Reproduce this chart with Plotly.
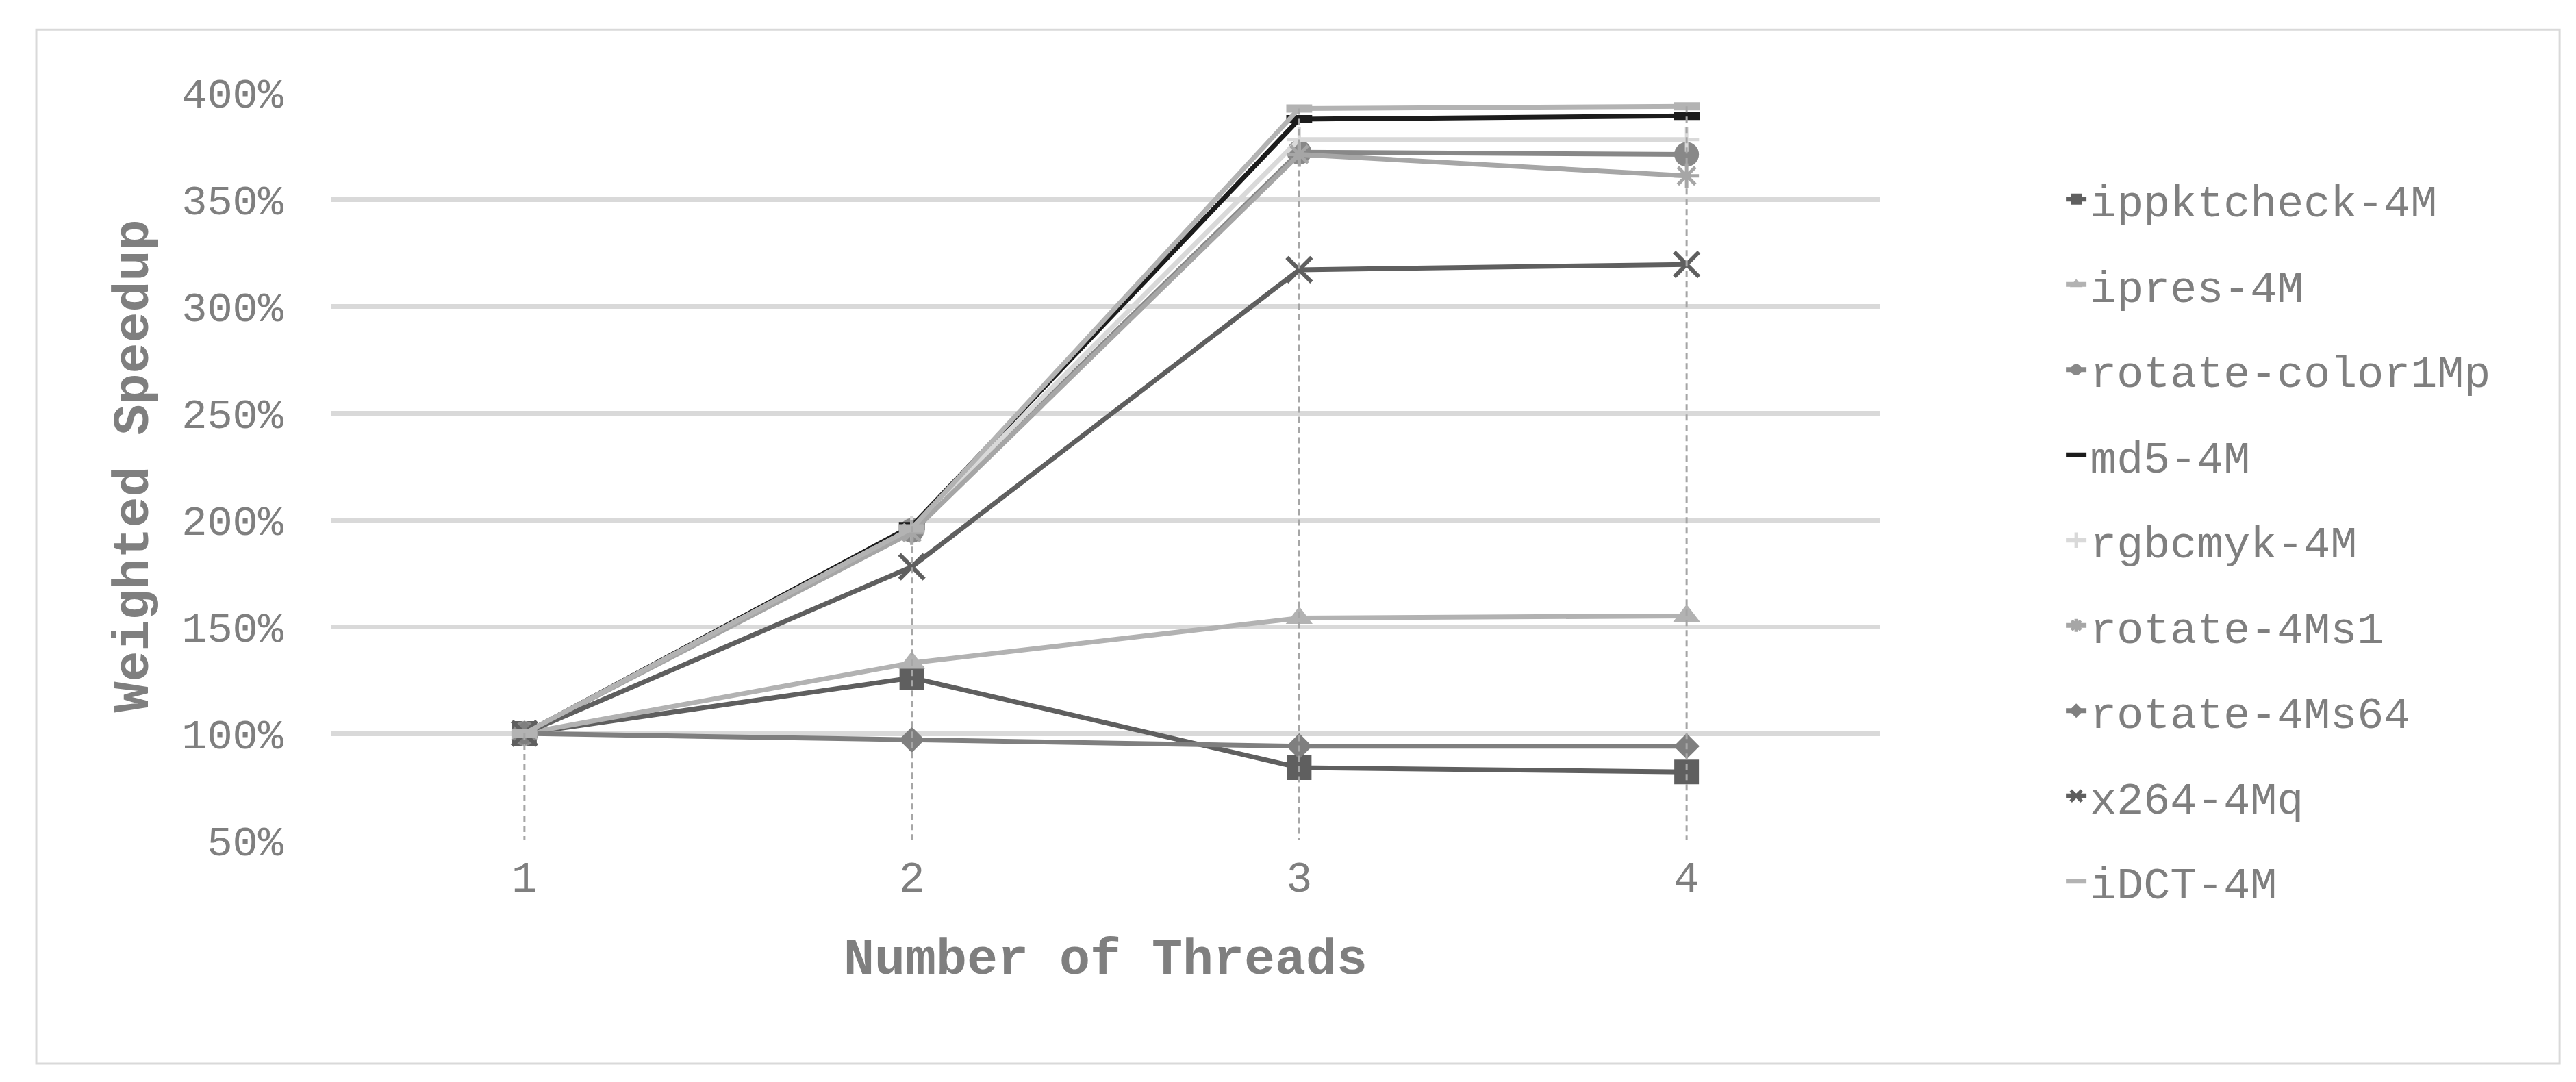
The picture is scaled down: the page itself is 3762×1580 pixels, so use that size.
import plotly.graph_objects as go

# Number of threads (x categories)
threads = [1, 2, 3, 4]

# Weighted speedup per benchmark, in percent
ippktcheck_4m = [100, 126, 84, 82]
ipres_4m = [100, 133, 154, 155]
rotate_color1mp = [100, 195, 372, 371]
md5_4m = [100, 197, 387.5, 389]
rgbcmyk_4m = [100, 196, 378, 378]
rotate_4ms1 = [100, 194, 371, 361]
rotate_4ms64 = [100, 97, 94, 94]
x264_4mq = [100, 178, 317, 319.5]
idct_4m = [100, 196, 392.5, 393.5]

series_names = [
    "ippktcheck-4M", "ipres-4M", "rotate-color1Mp", "md5-4M", "rgbcmyk-4M",
    "rotate-4Ms1", "rotate-4Ms64", "x264-4Mq", "iDCT-4M",
]
series_values = [
    ippktcheck_4m, ipres_4m, rotate_color1mp, md5_4m, rgbcmyk_4m,
    rotate_4ms1, rotate_4ms64, x264_4mq, idct_4m,
]

# y axis ticks
y_ticks = [50, 100, 150, 200, 250, 300, 350, 400]
y_labels = [f"{v}%" for v in y_ticks]

FONT = "Courier New, Liberation Mono, monospace"
TEXT_GREY = "#7f7f7f"

# colour, marker symbol, marker size, marker line width (open symbols)
styles = [
    ("#5f5f5f", "square", 36, 0),
    ("#b2b2b2", "triangle-up", 34, 0),
    ("#888888", "circle", 36, 0),
    ("#1c1c1c", "line-ew", 27, 12),
    ("#d9d9d9", "cross-thin", 26, 5),
    ("#a6a6a6", "asterisk", 30, 5),
    ("#7f7f7f", "diamond", 29, 0),
    ("#5f5f5f", "x-thin", 36, 6),
    ("#b3b3b3", "line-ew", 27, 12),
]

fig = go.Figure()

for i, (name, vals) in enumerate(zip(series_names, series_values)):
    color, symbol, size, lw = styles[i]
    marker = dict(symbol=symbol, size=size, color=color)
    if lw:
        marker["line"] = dict(color=color, width=lw)
    else:
        marker["line"] = dict(width=0)
    fig.add_trace(
        go.Scatter(
            x=threads,
            y=vals,
            name=name,
            mode="lines+markers",
            line=dict(color=color, width=7),
            marker=marker,
            legendgroup=name,
        )
    )

# drop lines from the highest point of each category down to the axis
drop_x, drop_y = [], []
for j, t in enumerate(threads):
    top = max(v[j] for v in series_values)
    drop_x += [t, t, None]
    drop_y += [top, y_ticks[0], None]
fig.add_trace(
    go.Scatter(
        x=drop_x,
        y=drop_y,
        mode="lines",
        line=dict(color="#a6a6a6", width=3, dash="9px,6px"),
        showlegend=False,
        hoverinfo="skip",
    )
)

fig.update_layout(
    width=3762,
    height=1580,
    margin=dict(l=475, r=1024, t=127, b=361),
    paper_bgcolor="white",
    plot_bgcolor="white",
    font=dict(family=FONT, size=65, color=TEXT_GREY),
    legend=dict(
        x=1.1176,
        xanchor="left",
        y=0.902,
        yanchor="top",
        tracegroupgap=37,
        maxheight=1500,
        font=dict(family=FONT, size=65, color=TEXT_GREY),
        bgcolor="rgba(0,0,0,0)",
    ),
    shapes=[
        dict(
            type="rect", xref="paper", yref="paper",
            x0=-0.190, x1=1.4384, y0=-0.2985, y1=1.084,
            line=dict(color="#d9d9d9", width=3),
            layer="below",
        )
    ],
    annotations=[
        dict(
            text="<b>Weighted Speedup</b>",
            xref="paper", yref="paper", x=-0.127, y=0.5,
            textangle=-90, showarrow=False,
            xanchor="center", yanchor="middle",
            font=dict(family=FONT, size=75, color=TEXT_GREY),
        ),
        dict(
            text="<b>Number of Threads</b>",
            xref="paper", yref="paper", x=0.5, y=-0.161,
            showarrow=False, xanchor="center", yanchor="middle",
            font=dict(family=FONT, size=75, color=TEXT_GREY),
        ),
    ],
)

fig.update_xaxes(
    range=[0.5, 4.5],
    tickvals=threads,
    showgrid=False,
    zeroline=False,
    showline=False,
    ticks="",
    ticklabelstandoff=11,
    tickfont=dict(family=FONT, size=63, color=TEXT_GREY),
)
fig.update_yaxes(
    range=[y_ticks[0], y_ticks[-1]],
    tickvals=y_ticks,
    ticktext=y_labels,
    showgrid=True,
    gridcolor="#d9d9d9",
    gridwidth=6.5,
    zeroline=False,
    showline=False,
    ticks="",
    ticklabelstandoff=68,
    tickfont=dict(family=FONT, size=62, color=TEXT_GREY),
)

fig.write_html("out.html")
